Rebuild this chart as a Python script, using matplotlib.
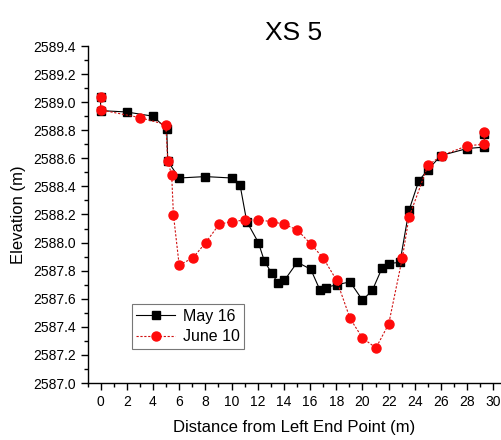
import matplotlib
matplotlib.use("Agg")
import matplotlib.pyplot as plt
from matplotlib.ticker import MultipleLocator, FormatStrFormatter

plt.rcParams['font.family'] = ['Liberation Sans', 'DejaVu Sans']

title = "XS 5"
xlabel = "Distance from Left End Point (m)"
ylabel = "Elevation (m)"

may_x = [0, 0, 2.0, 4.0, 5.05, 5.13, 6.0, 8.0, 10.0, 10.65, 11.16, 12.05, 12.5,
         13.07, 13.57, 14.03, 15.02, 16.05, 16.76, 17.2, 18.03, 19.05, 20.0,
         20.75, 21.5, 22.0, 22.86, 23.55, 24.3, 25.0, 26.0, 28.0, 29.3, 29.3]
may_y = [2589.04, 2588.94, 2588.93, 2588.90, 2588.81, 2588.58, 2588.46, 2588.47,
         2588.46, 2588.41, 2588.15, 2588.00, 2587.87, 2587.78, 2587.71, 2587.73,
         2587.86, 2587.81, 2587.66, 2587.68, 2587.70, 2587.72, 2587.59, 2587.66,
         2587.82, 2587.85, 2587.86, 2588.23, 2588.44, 2588.52, 2588.62, 2588.67,
         2588.68, 2588.77]

jun_x = [0, 0, 3.0, 4.98, 5.13, 5.43, 5.56, 6.0, 7.04, 8.03, 9.05, 10.0, 11.03,
         12.05, 13.07, 14.03, 15.02, 16.05, 17.0, 18.03, 19.05, 20.0, 21.03,
         22.0, 23.04, 23.55, 25.0, 26.05, 28.0, 29.3, 29.3]
jun_y = [2589.04, 2588.945, 2588.89, 2588.84, 2588.58, 2588.48, 2588.20, 2587.84,
         2587.89, 2588.00, 2588.13, 2588.15, 2588.16, 2588.16, 2588.15, 2588.13,
         2588.09, 2587.99, 2587.89, 2587.73, 2587.46, 2587.32, 2587.25, 2587.42,
         2587.89, 2588.18, 2588.55, 2588.62, 2588.69, 2588.70, 2588.785]

W, H = 502, 440
fig = plt.figure(figsize=(W / 100, H / 100), dpi=100)
ax = fig.add_axes([87.5 / W, 1 - 383 / H, (500 - 87.5) / W, (383 - 46) / H])

ax.plot(may_x, may_y, color='black', lw=0.8, marker='s', markersize=5.5,
        markerfacecolor='black', markeredgecolor='black', label='May 16', zorder=3)
ax.plot(jun_x, jun_y, color='#d01010', lw=0.8, linestyle=(0, (2, 1.5)), marker='o',
        markersize=6.5, markerfacecolor='#ff0a0a', markeredgecolor='#ff0a0a',
        label='June 10', zorder=4)

ax.set_xlim(-1, 30.5)
ax.set_ylim(2587.0, 2589.4)
ax.xaxis.set_major_locator(MultipleLocator(2))
ax.xaxis.set_minor_locator(MultipleLocator(1))
ax.yaxis.set_major_locator(MultipleLocator(0.2))
ax.yaxis.set_minor_locator(MultipleLocator(0.1))
ax.yaxis.set_major_formatter(FormatStrFormatter('%.1f'))

for s in ['top', 'right']:
    ax.spines[s].set_visible(False)
for s in ['left', 'bottom']:
    ax.spines[s].set_linewidth(1.0)

ax.tick_params(axis='both', which='major', direction='out', length=5, width=1,
               labelsize=10, colors='black')
ax.tick_params(axis='both', which='minor', direction='out', length=3, width=1)

ax.set_xlabel(xlabel, fontsize=12, labelpad=8)
ax.set_ylabel(ylabel, fontsize=12, labelpad=5)
ax.set_title(title, fontsize=19, pad=4)

leg = ax.legend(loc='upper left', bbox_to_anchor=((131.7 - 87.5) / (500 - 87.5),
                                                  (383 - 304) / (383 - 46)),
                fontsize=11.5, frameon=True, fancybox=False, edgecolor='#555555',
                handlelength=2.4, borderpad=0.3, labelspacing=0.35,
                handletextpad=0.5, borderaxespad=0)
leg.get_frame().set_linewidth(0.8)

fig.savefig('out.png', dpi=100)
